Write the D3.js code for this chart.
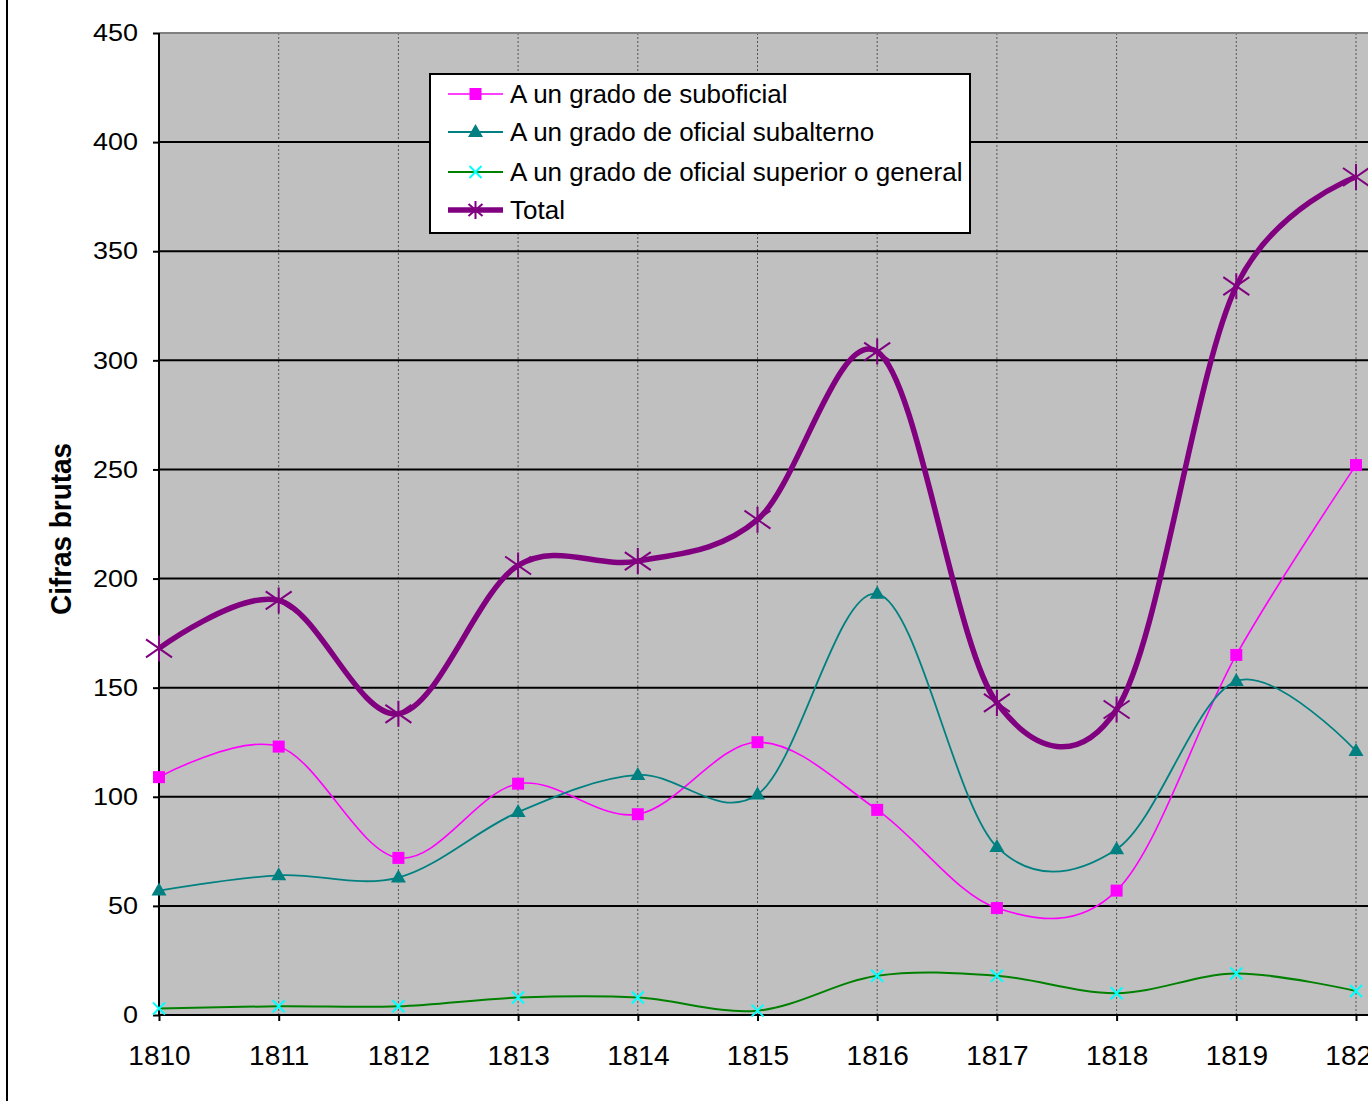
<!DOCTYPE html>
<html>
<head>
<meta charset="utf-8">
<script src="https://cdn.jsdelivr.net/npm/d3@7"></script>
<style>
  body { margin: 0; background: #fff; }
  svg { display: block; font-family: "Liberation Sans", Arial, sans-serif; }
</style>
</head>
<body>
<div id="chart"></div>
<script>
const years = [1810, 1811, 1812, 1813, 1814, 1815, 1816, 1817, 1818, 1819, 1820];
const suboficial = [109, 123, 72, 106, 92, 125, 94, 49, 57, 165, 252];
const subalterno = [57, 64, 63, 93, 110, 101, 193, 77, 76, 153, 121];
const superior = [3, 4, 4, 8, 8, 2, 18, 18, 10, 19, 11];
const total = [168, 190, 138, 206, 208, 227, 304, 143, 140, 334, 384];
const yTicks = [0, 50, 100, 150, 200, 250, 300, 350, 400, 450];

const width = 1368, height = 1101;
const plotLeft = 159, plotTop = 33, plotBottom = 1015;

const svg = d3.select("#chart").append("svg")
    .attr("width", width)
    .attr("height", height);

// x step ~119.7 px per year, plot runs past the right edge
const x = d3.scaleLinear().domain([1810, 1820]).range([plotLeft, 1356]);
const y = d3.scaleLinear().domain([0, 450]).range([plotBottom, plotTop]);

// outer frame edge on the left
svg.append("line")
    .attr("x1", 7).attr("x2", 7).attr("y1", 0).attr("y2", height)
    .attr("stroke", "#000").attr("stroke-width", 2);

svg.append("rect")
    .attr("x", plotLeft).attr("y", plotTop)
    .attr("width", width - plotLeft + 20).attr("height", plotBottom - plotTop)
    .attr("fill", "#c0c0c0");

// vertical dotted grid
svg.append("g").selectAll("line")
    .data(years.slice(1))
    .join("line")
    .attr("x1", d => x(d)).attr("x2", d => x(d))
    .attr("y1", plotTop).attr("y2", plotBottom)
    .attr("stroke", "#555").attr("stroke-width", 1)
    .attr("stroke-dasharray", "2,2");

// horizontal grid
svg.append("g").selectAll("line")
    .data(yTicks.slice(1, -1))
    .join("line")
    .attr("x1", plotLeft).attr("x2", width)
    .attr("y1", d => y(d)).attr("y2", d => y(d))
    .attr("stroke", "#000").attr("stroke-width", 2);

svg.append("line")
    .attr("x1", plotLeft).attr("x2", width)
    .attr("y1", plotTop).attr("y2", plotTop)
    .attr("stroke", "#808080").attr("stroke-width", 2);

// axes
const yAxis = svg.append("g")
    .attr("transform", `translate(${plotLeft},0)`)
    .call(d3.axisLeft(y).tickValues(yTicks).tickSize(6).tickPadding(15));
yAxis.select(".domain").attr("stroke-width", 2).attr("d", `M0,${plotTop}V${plotBottom}`);
yAxis.selectAll(".tick line").attr("stroke-width", 2);
// labels are drawn a little wider than plain Arial
yAxis.selectAll("text")
    .attr("font-size", 24).attr("fill", "#000")
    .attr("font-family", "Liberation Sans, Arial, sans-serif")
    .attr("textLength", d => String(d).length * 15)
    .attr("lengthAdjust", "spacingAndGlyphs");

const xAxis = svg.append("g")
    .attr("transform", `translate(0,${plotBottom})`)
    .call(d3.axisBottom(x).tickValues(years).tickFormat(d3.format("d")).tickSize(6).tickPadding(24));
xAxis.select(".domain").attr("stroke-width", 2).attr("d", `M${plotLeft},0H${width}`);
xAxis.selectAll(".tick line").attr("stroke-width", 2);
xAxis.selectAll("text").attr("font-size", 28).attr("fill", "#000")
    .attr("font-family", "Liberation Sans, Arial, sans-serif");

svg.append("text")
    .attr("transform", "translate(71,529) rotate(-90)")
    .attr("text-anchor", "middle")
    .attr("font-size", 30).attr("font-weight", "bold")
    .attr("textLength", 172).attr("lengthAdjust", "spacingAndGlyphs")
    .text("Cifras brutas");

const series = [
    { name: "A un grado de suboficial", values: suboficial, color: "#ff00ff", width: 1.6, marker: "square", mcolor: "#ff00ff" },
    { name: "A un grado de oficial subalterno", values: subalterno, color: "#008080", width: 1.8, marker: "triangle", mcolor: "#008080" },
    { name: "A un grado de oficial superior o general", values: superior, color: "#008000", width: 2, marker: "x", mcolor: "#00ffff" },
    { name: "Total", values: total, color: "#800080", width: 5.5, marker: "star", mcolor: "#800080" }
];

const line = d3.line()
    .x((d, i) => x(years[i]))
    .y(d => y(d))
    .curve(d3.curveCatmullRom.alpha(0.1));

function drawMarker(g, type, color) {
    if (type === "square") {
        g.append("rect").attr("x", -6).attr("y", -6).attr("width", 12).attr("height", 12).attr("fill", color);
    } else if (type === "triangle") {
        g.append("path").attr("d", "M0,-8L7.5,5L-7.5,5Z").attr("fill", color);
    } else if (type === "x") {
        g.append("path").attr("d", "M-6,-6L6,6M-6,6L6,-6").attr("stroke", color).attr("stroke-width", 2).attr("fill", "none");
    } else {
        g.append("path").attr("d", "M-13,-9L13,9M-13,9L13,-9M0,-13V13").attr("stroke", color).attr("stroke-width", 2).attr("fill", "none");
    }
}

series.forEach(s => {
    svg.append("path")
        .attr("d", line(s.values))
        .attr("fill", "none")
        .attr("stroke", s.color)
        .attr("stroke-width", s.width)
        .attr("stroke-linejoin", "round");
    s.values.forEach((v, i) => {
        const g = svg.append("g").attr("transform", `translate(${x(years[i])},${y(v)})`);
        drawMarker(g, s.marker, s.mcolor);
    });
});

// legend
const legend = svg.append("g");
legend.append("rect")
    .attr("x", 430).attr("y", 74).attr("width", 540).attr("height", 159)
    .attr("fill", "#fff").attr("stroke", "#000").attr("stroke-width", 2);

const legendY = [94, 132, 172, 210];
series.forEach((s, i) => {
    const ly = legendY[i];
    legend.append("line")
        .attr("x1", 448).attr("x2", 503).attr("y1", ly).attr("y2", ly)
        .attr("stroke", s.color).attr("stroke-width", s.width);
    const g = legend.append("g").attr("transform", `translate(475.5,${ly})`);
    if (s.marker === "star") {
        g.append("path").attr("d", "M-7,-6L7,6M-7,6L7,-6M0,-9V9").attr("stroke", s.mcolor).attr("stroke-width", 2);
    } else {
        drawMarker(g, s.marker, s.mcolor);
    }
    legend.append("text")
        .attr("x", 510).attr("y", ly).attr("dy", "0.35em")
        .attr("font-size", 26)
        .text(s.name);
});
</script>
</body>
</html>
